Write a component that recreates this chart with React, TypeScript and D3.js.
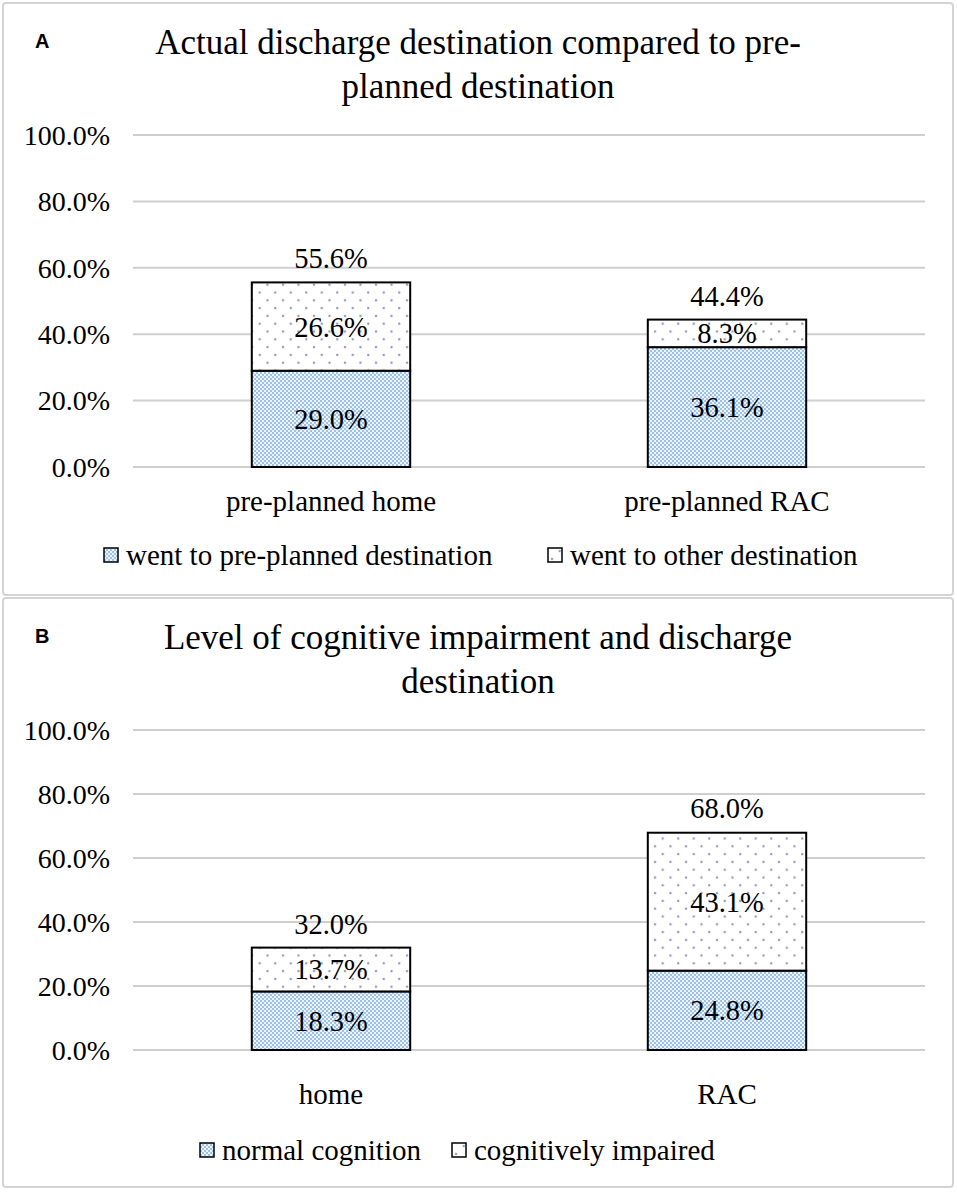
import React from 'react';
import * as d3 from 'd3';

// Panel A data
const categoriesA = ['pre-planned home', 'pre-planned RAC'];
const wentPlanned = [29.0, 36.1];
const wentOther = [26.6, 8.3];
const totalsA = [55.6, 44.4];
const legendA = ['went to pre-planned destination', 'went to other destination'];
const titleA = ['Actual discharge destination compared to pre-', 'planned destination'];

// Panel B data
const categoriesB = ['home', 'RAC'];
const normalCog = [18.3, 24.8];
const impairedCog = [13.7, 43.1];
const totalsB = [32.0, 68.0];
const legendB = ['normal cognition', 'cognitively impaired'];
const titleB = ['Level of cognitive impairment and discharge', 'destination'];

const yTicks = [0, 20, 40, 60, 80, 100];

const W = 957;
const H = 1193;
const SERIF = "'Liberation Serif', 'Times New Roman', serif";

interface PanelProps {
  top: number;
  bottom: number;
  tag: string;
  title: string[];
  categories: string[];
  lower: number[];
  upper: number[];
  totals: number[];
  legend: string[];
  legendX: number[];
  plotTop: number;
  plotBottom: number;
  catOffset: number;
}

const Panel: React.FC<PanelProps> = ({
  top, bottom, tag, title, categories, lower, upper, totals, legend, legendX, plotTop, plotBottom, catOffset,
}) => {
  const left = 133;
  const right = 925;

  const x = d3.scaleBand<string>()
    .domain(categories)
    .range([left, right])
    .paddingInner(0.6)
    .paddingOuter(0.3);

  const y = d3.scaleLinear()
    .domain([0, 100])
    .range([top + plotBottom, top + plotTop]);

  const fmt = (v: number) => v.toFixed(1) + '%';

  return (
    <g>
      <rect x={3} y={top} width={950} height={bottom - top} rx={3}
        fill="#fff" stroke="#d4d4d4" strokeWidth={2} />
      <text x={35} y={top + 38} dy="0.35em" fontFamily="Arial, 'Liberation Sans', sans-serif"
        fontWeight="bold" fontSize={20}>{tag}</text>
      {title.map((t, i) => (
        <text key={i} x={478} y={top + 39 + i * 44} dy="0.35em" textAnchor="middle"
          fontFamily={SERIF} fontSize={35}>{t}</text>
      ))}

      {/* gridlines + y labels */}
      {yTicks.map(t => (
        <g key={t}>
          <line x1={left} x2={right} y1={y(t)} y2={y(t)} stroke="#cfcfcf" strokeWidth={2} />
          <text x={110} y={y(t)} dy="0.35em" textAnchor="end" fontFamily={SERIF} fontSize={28}>
            {t.toFixed(1) + '%'}
          </text>
        </g>
      ))}

      {/* stacked bars */}
      {categories.map((c, i) => {
        const bx = x(c) ?? 0;
        const bw = x.bandwidth();
        const cx = bx + bw / 2;
        const yLowTop = y(lower[i]);
        const yUpTop = y(lower[i] + upper[i]);
        return (
          <g key={c}>
            <rect x={bx} y={yLowTop} width={bw} height={y(0) - yLowTop}
              fill="url(#checker)" stroke="#000" strokeWidth={2} />
            <rect x={bx} y={yUpTop} width={bw} height={yLowTop - yUpTop}
              fill="url(#dots)" stroke="#000" strokeWidth={2} />
            <text x={cx} y={(yLowTop + y(0)) / 2} dy="0.35em" textAnchor="middle"
              fontFamily={SERIF} fontSize={28.5}>{fmt(lower[i])}</text>
            <text x={cx} y={(yUpTop + yLowTop) / 2} dy="0.35em" textAnchor="middle"
              fontFamily={SERIF} fontSize={28.5}>{fmt(upper[i])}</text>
            <text x={cx} y={y(totals[i]) - 24} dy="0.35em" textAnchor="middle"
              fontFamily={SERIF} fontSize={28.5}>{fmt(totals[i])}</text>
            <text x={cx} y={y(0) + catOffset} dy="0.35em" textAnchor="middle"
              fontFamily={SERIF} fontSize={29}>{c}</text>
          </g>
        );
      })}

      {/* legend */}
      {legend.map((l, i) => (
        <g key={l} transform={`translate(${legendX[i]},${top + 552})`}>
          <rect x={0} y={-7} width={14} height={14} fill={i === 0 ? 'url(#checker)' : 'url(#dots)'}
            stroke="#000" strokeWidth={1.5} />
          <text x={22} y={0} dy="0.35em" fontFamily={SERIF} fontSize={29}>{l}</text>
        </g>
      ))}
    </g>
  );
};

const App: React.FC = () => {
  return (
    <div style={{ position: 'absolute', left: 0, top: 0, width: W, height: H, background: '#fff' }}>
      <svg width={W} height={H} viewBox={`0 0 ${W} ${H}`}>
        <defs>
          <pattern id="checker" width={4} height={4} patternUnits="userSpaceOnUse">
            <rect width={4} height={4} fill="#eef4fc" />
            <rect x={0} y={0} width={2} height={2} fill="#9cc2ec" />
            <rect x={2} y={2} width={2} height={2} fill="#9cc2ec" />
          </pattern>
          <pattern id="dots" width={15.5} height={15.6} patternUnits="userSpaceOnUse">
            <rect width={15.5} height={15.6} fill="#fff" />
            <circle cx={4} cy={4} r={1.2} fill="#9496bd" />
            <circle cx={11.75} cy={11.8} r={1.2} fill="#9496bd" />
          </pattern>
        </defs>
        <rect width={W} height={H} fill="#fff" />
        <Panel top={3} bottom={595} tag="A" title={titleA} categories={categoriesA}
          lower={wentPlanned} upper={wentOther} totals={totalsA} legend={legendA}
          legendX={[104, 548]} plotTop={132} plotBottom={464} catOffset={34} />
        <Panel top={598} bottom={1187} tag="B" title={titleB} categories={categoriesB}
          lower={normalCog} upper={impairedCog} totals={totalsB} legend={legendB}
          legendX={[200, 452]} plotTop={132} plotBottom={452} catOffset={44} />
      </svg>
    </div>
  );
};

export default App;
